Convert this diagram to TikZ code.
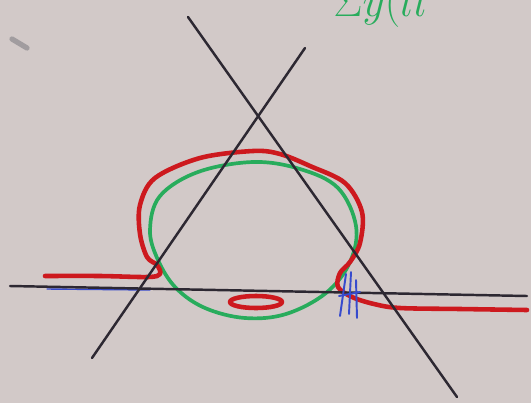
\documentclass[tikz,border=0pt]{standalone}
\usepackage{xcolor}
\usepackage{tikz}
\usetikzlibrary{calc}
\definecolor{paper}{RGB}{210,201,200}
\definecolor{inkdark}{RGB}{45,40,50}
\definecolor{inkred}{RGB}{205,25,30}
\definecolor{inkgreen}{RGB}{40,172,92}
\definecolor{inkblue}{RGB}{55,75,205}
\tikzset{
  pen/.style={line width=1.4pt, color=inkdark, line cap=round},
  redpen/.style={line width=2.6pt, color=inkred, line cap=round, line join=round},
  greenpen/.style={line width=2.1pt, color=inkgreen},
  bluepen/.style={line width=1.1pt, color=inkblue, line cap=round},
  smudge/.style={line width=3pt, color=inkdark!60, opacity=0.6, line cap=round}
}

\begin{document}
\begin{tikzpicture}[x=0.02cm, y=-0.02cm]
  % Paper
  \fill[paper] (0,0) rectangle (531,403);
  \clip (0,0) rectangle (531,403);

  % Green note, cut off at the top
  \node[anchor=base west, inner sep=0pt, color=inkgreen,
        font=\fontsize{44}{44}\selectfont] (note) at (333,16) {$\Sigma y(ll$};

  % Small mark top left
  \draw[smudge] (12,39) -- (27,48);

  % Green loop
  \draw[greenpen] plot[smooth cycle, tension=0.6] coordinates {
    (253,162) (300,169) (338,188) (356,226) (350,262) (326,293)
    (286,314) (245,318) (205,308) (176,288) (158,260) (150,230)
    (160,196) (198,172)};

  % Red curve
  \draw[redpen] plot[smooth, tension=0.55] coordinates {
    (45,276) (100,276) (148,277) (160,274) (157,265) (147,257)
    (140,234) (140,205) (155,178) (200,158) (253,151) (280,154)
    (310,166) (345,183) (362,212) (360,243) (350,262) (340,273)
    (338,287) (352,297) (374,304) (400,308) (460,309) (527,310)};
  \draw[redpen] (256,302) ellipse (26 and 6);

  % Black lines
  \coordinate (a1) at (188,17);
  \coordinate (a2) at (457,397);
  \coordinate (b1) at (305,48);
  \coordinate (b2) at (92,358);
  \coordinate (h1) at (10,286);
  \coordinate (h2) at (527,296);
  \draw[bluepen, line width=0.8pt] (47,289) -- (150,290);
  \draw[pen] (a1) -- (a2);
  \draw[pen] (b1) -- (b2);
  \draw[pen] (h1) -- (h2);

  % Blue marks
  \draw[bluepen] (346,274) -- (340,316);
  \draw[bluepen] (351,272) -- (349,314);
  \draw[bluepen] (356,280) -- (357,318);
  \draw[bluepen] (339,296) -- (360,292);
\end{tikzpicture}
\end{document}
